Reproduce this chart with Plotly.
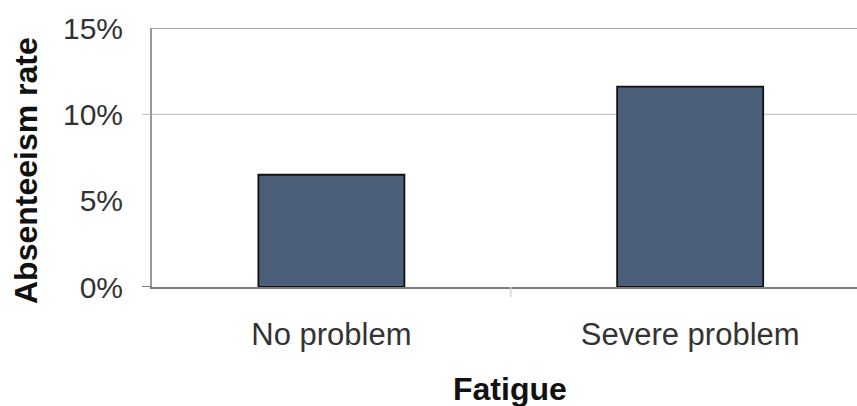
import plotly.graph_objects as go

# Absenteeism rate by fatigue level
categories = ["No problem", "Severe problem"]
absenteeism_pct = [6.5, 11.6]
y_ticks = [0, 5, 10, 15]
y_tick_labels = ["0%", "5%", "10%", "15%"]

BAR_FILL = "#4c5f78"
TEXT = "#333333"
FONT = "Liberation Sans, Arial, sans-serif"

fig = go.Figure(
    go.Bar(
        x=categories,
        y=absenteeism_pct,
        marker=dict(color=BAR_FILL, line=dict(color="#111111", width=1.8)),
        hoverinfo="skip",
    )
)

fig.update_layout(
    width=857,
    height=406,
    margin=dict(l=152, r=0, t=28, b=119),
    paper_bgcolor="white",
    plot_bgcolor="white",
    bargap=0.593,
    showlegend=False,
    font=dict(family=FONT, color=TEXT),
)

fig.update_xaxes(
    type="category",
    range=[-0.5, 1.465],
    showgrid=False,
    showline=True,
    linecolor="#7f7f7f",
    linewidth=2,
    ticks="",
    ticklabelstandoff=19,
    tickfont=dict(size=31, color=TEXT, family=FONT),
)

fig.update_yaxes(
    range=[0, 15],
    tickvals=y_ticks,
    ticktext=y_tick_labels,
    showgrid=False,
    zeroline=False,
    showline=True,
    linecolor="#9a9a9a",
    linewidth=2,
    ticks="",
    ticklabelstandoff=21,
    tickfont=dict(size=30, color=TEXT, family=FONT),
)

# 10% gridline (extending slightly left as a tick), top frame line and 0% tick
fig.add_shape(type="line", xref="paper", yref="y", x0=-0.014, x1=1, y0=10, y1=10,
              line=dict(color="#c8c8c8", width=1.2), layer="below")
fig.add_shape(type="line", xref="paper", yref="y", x0=0, x1=1, y0=15, y1=15,
              line=dict(color="#a6a6a6", width=2.2), layer="below")
fig.add_shape(type="line", xref="paper", yref="y", x0=-0.014, x1=0, y0=0, y1=0,
              line=dict(color="#7f7f7f", width=2))
# faint category divider tick below the baseline
fig.add_shape(type="line", xref="x", yref="paper", x0=0.5, x1=0.5, y0=0, y1=-0.04,
              line=dict(color="#d6d6d6", width=1.5))

# Axis titles
fig.add_annotation(
    text="<b>Absenteeism rate</b>", textangle=-90,
    xref="paper", yref="paper", x=-0.179, y=0.451,
    xanchor="center", yanchor="middle", showarrow=False,
    font=dict(size=32, color="#111111", family=FONT),
)
fig.add_annotation(
    text="<b>Fatigue</b>",
    xref="paper", yref="paper", x=(509.5 - 152) / 705, y=-0.393,
    xanchor="center", yanchor="middle", showarrow=False,
    font=dict(size=32, color="#111111", family=FONT),
)

fig.write_html("out.html")
